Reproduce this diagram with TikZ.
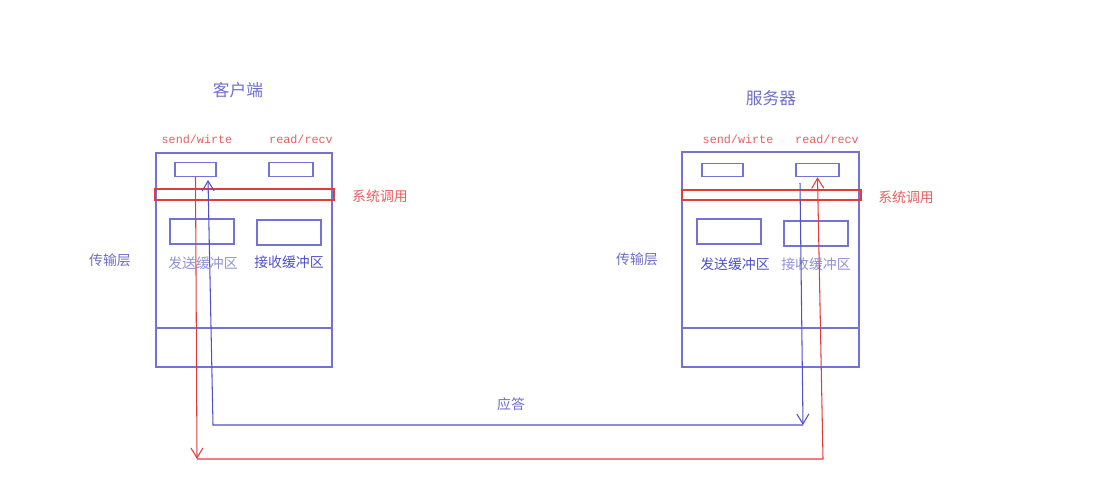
\documentclass[tikz,border=0pt]{standalone}
\usepackage{fontspec}
\setmainfont{Noto Sans CJK SC}
\newfontfamily\codefont{Liberation Mono}
\usetikzlibrary{arrows.meta}
\definecolor{lineblue}{RGB}{80,80,200}
\definecolor{textblue}{RGB}{110,110,200}
\definecolor{paleblue}{RGB}{145,145,215}
\definecolor{linered}{RGB}{225,60,60}
\definecolor{textred}{RGB}{230,95,95}

\begin{document}
\begin{tikzpicture}[x=0.02cm,y=-0.02cm,
  hostbox/.style={draw=lineblue!80,line width=0.6pt},
  slot/.style={draw=lineblue!80,line width=0.6pt,minimum width=0.82cm,minimum height=0.27cm,inner sep=0pt},
  buf/.style={draw=lineblue!80,line width=0.6pt,minimum width=1.28cm,minimum height=0.5cm,inner sep=0pt},
  syscall/.style={draw=linered,line width=0.6pt},
  lbl/.style={font=\fontsize{7.9}{9}\selectfont,text=textblue,inner sep=0pt},
  title/.style={font=\fontsize{9.5}{11}\selectfont,text=textblue,inner sep=0pt},
  api/.style={font=\codefont\fontsize{6.7}{8}\selectfont,text=textred,inner sep=0pt},
  req/.style={draw=linered,line width=0.6pt},
  resp/.style={draw=lineblue,line width=0.6pt},
  tip/.style={-{Straight Barb[length=2mm,width=2.4mm]}}]
  \useasboundingbox (0,0) rectangle (1104,479);
  % client
  \node[title] (client) at (238,90) {客户端};
  \draw[hostbox] (156,153) rectangle (332,367);
  \draw[hostbox] (156,328) -- (332,328);
  \node[slot] (csend) at (195.5,169.5) {};
  \node[slot,minimum width=0.88cm] (crecv) at (291,169.5) {};
  \node[api] (cwrite) at (197,139) {send/wirte};
  \node[api] (cread) at (301,139) {read/recv};
  \draw[syscall] (155,189) rectangle (334,200);
  \node[lbl,text=textred] (csys) at (380,196) {系统调用};
  \node[buf] (csbuf) at (202,231.5) {};
  \node[buf] (crbuf) at (289,232.5) {};
  \node[lbl,text=paleblue] (csbuftxt) at (203,263) {发送缓冲区};
  \node[lbl,text=lineblue] (crbuftxt) at (289,262) {接收缓冲区};
  \node[lbl] (clayer) at (110,260) {传输层};
  % server
  \node[title] (server) at (771,98) {服务器};
  \draw[hostbox] (682,152) rectangle (859,367);
  \draw[hostbox] (682,328) -- (859,328);
  \node[slot] (ssend) at (722.5,170) {};
  \node[slot,minimum width=0.86cm] (srecv) at (817.5,170) {};
  \node[api] (swrite) at (738,139) {send/wirte};
  \node[api] (sread) at (827,139) {read/recv};
  \draw[syscall] (682,190) rectangle (861,200);
  \node[lbl,text=textred] (ssys) at (906,197) {系统调用};
  \node[buf] (ssbuf) at (729,231.5) {};
  \node[buf] (srbuf) at (816,233.5) {};
  \node[lbl,text=lineblue] (ssbuftxt) at (735,264) {发送缓冲区};
  \node[lbl,text=paleblue] (srbuftxt) at (816,264) {接收缓冲区};
  \node[lbl] (slayer) at (637,259) {传输层};
  % request (red)
  \coordinate (rq1) at (197,459);
  \coordinate (rq2) at (823,459);
  \draw[req,tip] (csend.south) -- (rq1);
  \draw[req,tip] (rq1) -- (rq2) -- (srecv.south);
  % response (blue)
  \coordinate (rs0) at (800,183);
  \coordinate (rs1) at (803,425);
  \coordinate (rs2) at (213,425);
  \coordinate (rs3) at (208,180);
  \draw[resp,tip] (rs0) -- (rs1);
  \draw[resp,tip] (rs1) -- (rs2) -- (rs3);
  \node[lbl] (ack) at (511,404) {应答};
\end{tikzpicture}
\end{document}
